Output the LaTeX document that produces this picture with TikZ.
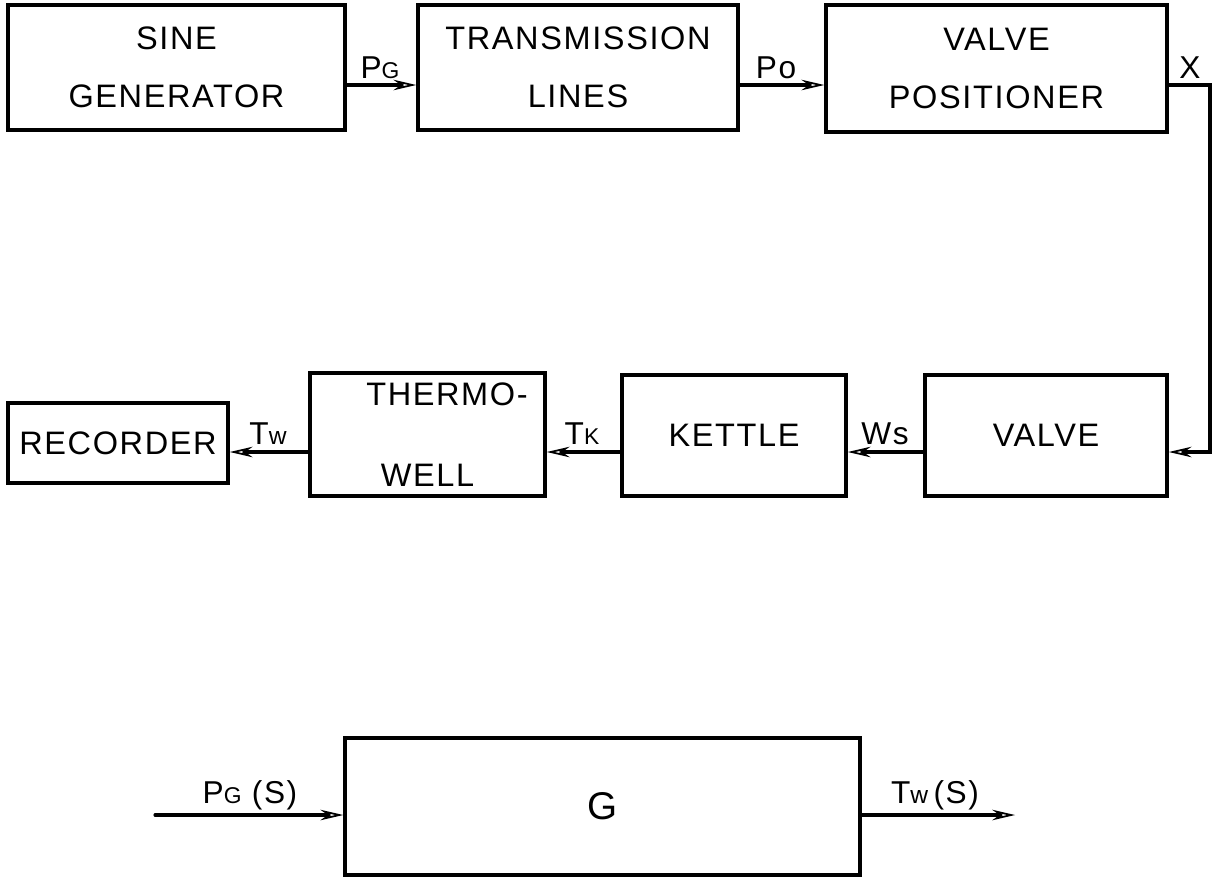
\documentclass[tikz,border=0pt]{standalone}
\usepackage{fontspec}
\setmainfont{Liberation Sans}
\newfontfamily\lettering[LetterSpace=5]{Liberation Sans}
\usetikzlibrary{arrows.meta,positioning}

\begin{document}
\begin{tikzpicture}[
  x=0.02cm,y=-0.02cm,
  line cap=round,
  block/.style={draw,line width=2pt,align=center,
                font=\lettering\fontsize{18.5}{33}\selectfont},
  sig/.style={line width=1.8pt,-{Stealth[open,length=13pt,width=6pt,line width=1pt]}},
  lab/.style={font=\lettering\fontsize{18}{20}\selectfont,inner sep=1pt}
]
\useasboundingbox (0,0) rectangle (1212,883);

% ---- rij boven ----
\node[block,minimum width=337*0.02cm,minimum height=125*0.02cm] (sine) at (176.5,67.5) {SINE\\GENERATOR};
\node[block,minimum width=320*0.02cm,minimum height=125*0.02cm] (trans) at (578,67.5) {TRANSMISSION\\LINES};
\node[block,minimum width=341*0.02cm,minimum height=127*0.02cm] (vpos) at (996.5,68.5) {VALVE\\POSITIONER};

% ---- rij midden ----
\node[block,minimum width=220*0.02cm,minimum height=80*0.02cm] (rec) at (118,443) {RECORDER};
\node[block,minimum width=235*0.02cm,minimum height=123*0.02cm,
      font=\lettering\fontsize{18.5}{46}\selectfont] (therm) at (427.5,434.5) {\hspace*{1.2em}THERMO-\\WELL};
\node[block,minimum width=224*0.02cm,minimum height=121*0.02cm] (kettle) at (734,435.5) {KETTLE};
\node[block,minimum width=242*0.02cm,minimum height=121*0.02cm] (valve) at (1046,435.5) {VALVE};

% ---- overdrachtsblok ----
\node[block,minimum width=515*0.02cm,minimum height=137*0.02cm,
      font=\fontsize{22}{24}\selectfont] (G) at (602.5,806.5) {G};

\coordinate (rowA) at (0,85);
\coordinate (rowB) at (0,452);
\coordinate (rowC) at (0,815);
\coordinate (turn) at (1210,0);
\coordinate (in) at (155,815);
\coordinate (out) at (1015,815);

% ---- verbindingen ----
\draw[sig] (sine.east |- rowA) -- (trans.west |- rowA);
\draw[sig] (trans.east |- rowA) -- (vpos.west |- rowA);
\draw[sig] (vpos.east |- rowA) -- (turn |- rowA) -- (turn |- rowB) -- (valve.east |- rowB);
\draw[sig] (valve.west |- rowB) -- (kettle.east |- rowB);
\draw[sig] (kettle.west |- rowB) -- (therm.east |- rowB);
\draw[sig] (therm.west |- rowB) -- (rec.east |- rowB);
\draw[sig] (in) -- (G.west |- rowC);
\draw[sig] (G.east |- rowC) -- (out);

% ---- signaalnamen ----
\node[lab] (lPg) at (380,68) {P{\fontsize{13}{14}\selectfont G}};
\node[lab] (lPo) at (776,68) {Po};
\node[lab] (lX) at (1190,68) {X};
\node[lab] (lWs) at (885,434) {Ws};
\node[lab] (lTk) at (582,434) {T{\fontsize{13}{14}\selectfont K}};
\node[lab] (lTw) at (268,434) {T{\fontsize{14}{14}\selectfont w}};
\node[lab] (lPgS) at (250,795) {P{\fontsize{13}{14}\selectfont G} (S)};
\node[lab] (lTwS) at (935,795) {T{\fontsize{14}{14}\selectfont w}\,(S)};

\end{tikzpicture}
\end{document}
